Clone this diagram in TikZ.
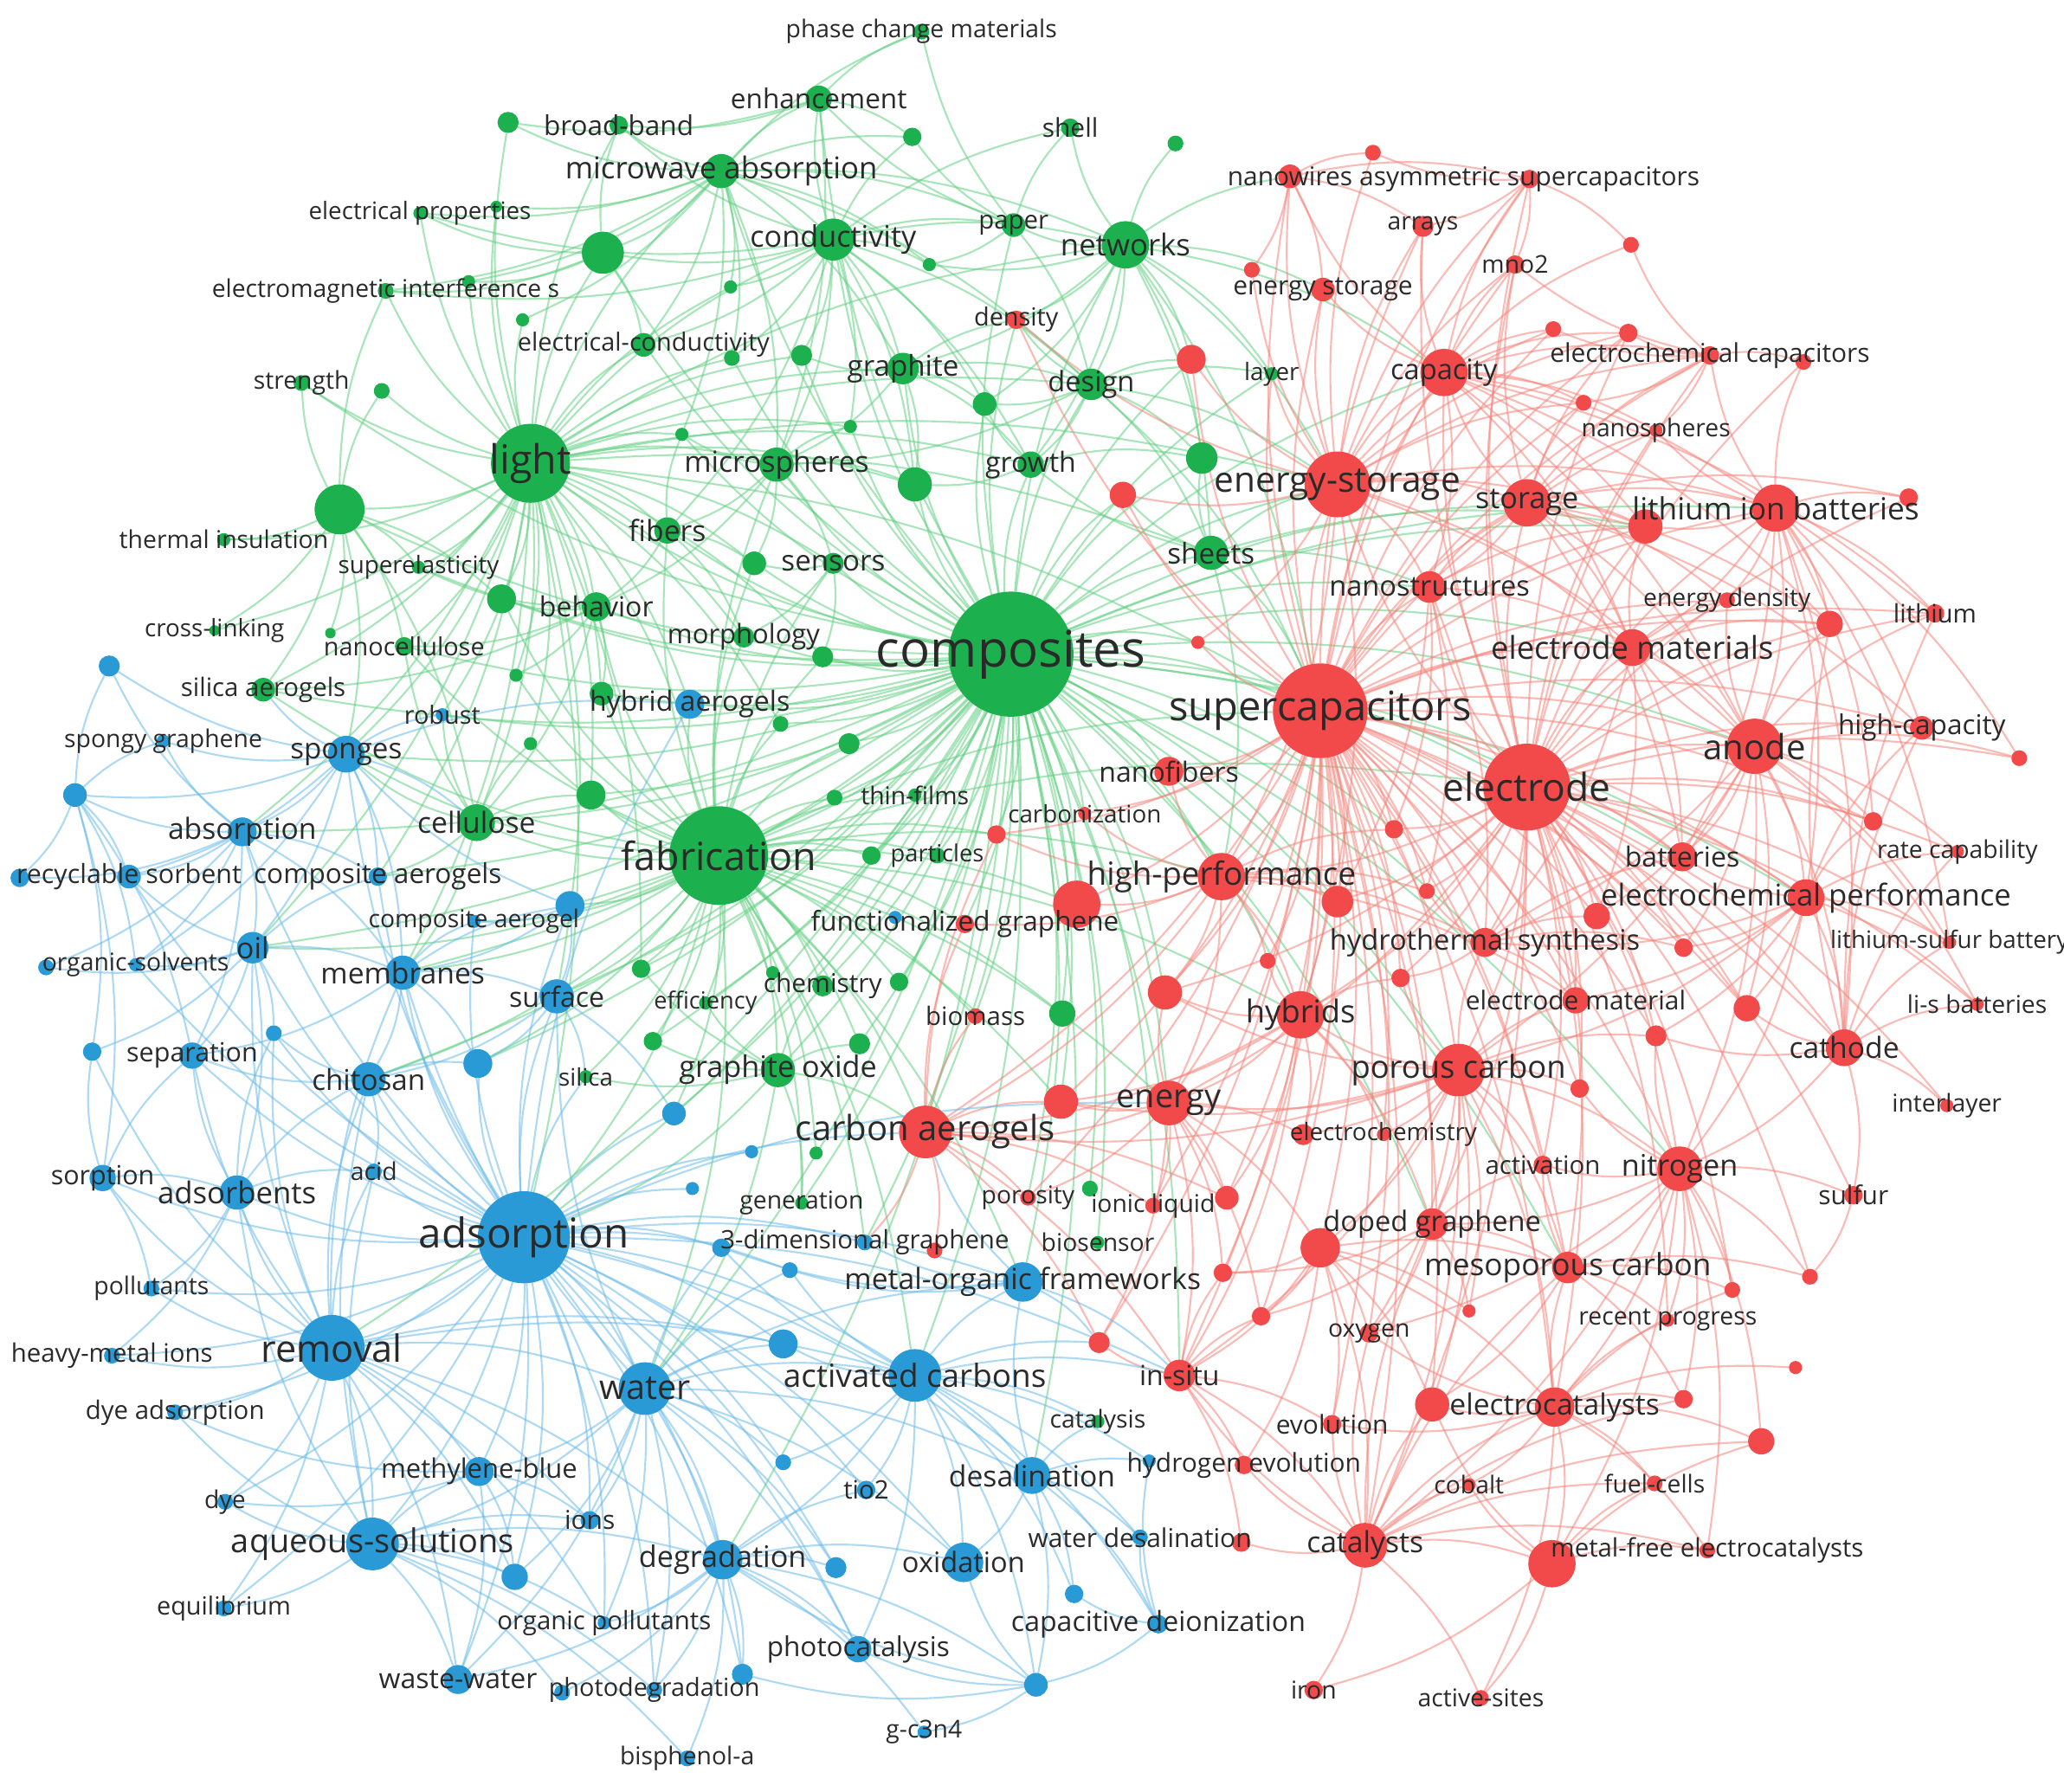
\documentclass[tikz,border=0pt]{standalone}
\usepackage{fontspec}
\setmainfont{Open Sans}
\definecolor{gnode}{HTML}{1DB04F}
\definecolor{rnode}{HTML}{F24A4A}
\definecolor{bnode}{HTML}{2A9AD6}
\definecolor{gline}{HTML}{62CF82}
\definecolor{rline}{HTML}{F5837A}
\definecolor{bline}{HTML}{6BBAEA}
\definecolor{txt}{HTML}{2A2A2A}
\pgfdeclarelayer{edges}
\pgfdeclarelayer{labels}
\pgfsetlayers{edges,main,labels}

\begin{document}
\begin{tikzpicture}[x=0.1mm, y=-0.1mm,
    kw/.style={circle, inner sep=0pt, outer sep=0pt, fill=#1},
    lbl/.style={text=txt, inner sep=0pt, font=\fontsize{#1}{#1}\selectfont},
    ge/.style={draw=gline, line width=0.4pt, opacity=0.55},
    re/.style={draw=rline, line width=0.4pt, opacity=0.55},
    be/.style={draw=bline, line width=0.4pt, opacity=0.55},
  ]
  \useasboundingbox (0,0) rectangle (1568,1361);

  % green cluster
  \foreach \n/\x/\y/\d/\f/\t in {comp/768/497/95/10.9/composites, light/403/352/60/8.7/light,
      fab/546/650/75/8.4/fabrication, mwabs/548/130/26/6.5/microwave absorption,
      cond/633/182/32/6.4/conductivity, netw/855/186/36/6.5/networks, paper/770/171/18/5.5/paper,
      shell/813/97/14/5.6/shell, enh/622/75/20/5.9/enhancement, bband/470/95/14/5.9/broad-band,
      pcm/700/24/12/5.3/phase change materials, elprop/319/162/10/5.2/electrical properties,
      emi/293/221/12/5.3/electromagnetic interference s, elcond/489/262/18/5.4/electrical-conductivity,
      strength/229/291/12/5.3/strength, thins/170/410/10/5.3/thermal insulation,
      supel/318/431/10/5.2/superelasticity, behav/453/461/22/6.0/behavior,
      xlink/163/479/8/5.2/cross-linking, ncell/307/491/14/5.4/nanocellulose,
      silaer/200/524/18/5.5/silica aerogels, cell/362/625/28/6.3/cellulose,
      morph/565/484/16/5.8/morphology, fibers/507/403/20/6.3/fibers, sensors/633/428/16/6.2/sensors,
      msph/590/353/26/6.3/microspheres, graphite/686/280/24/6.2/graphite, growth/783/353/20/6.0/growth,
      design/829/292/24/6.1/design, sheets/920/420/26/6.2/sheets, layer/966/284/10/5.2/layer,
      thinf/695/604/10/5.3/thin-films, partic/712/650/12/5.1/particles, chem/625/749/16/5.6/chemistry,
      effic/536/762/10/5.1/efficiency, graox/591/813/26/6.4/graphite oxide, silica/445/818/10/5.2/silica,
      gener/609/914/10/5.3/generation, biosens/834/944/10/5.3/biosensor, catal/834/1080/10/5.3/catalysis}{
    \node[kw=gnode, minimum size=\d*0.1mm] (\n) at (\x,\y) {};
    \begin{pgfonlayer}{labels}
      \node[lbl=\f] (\n-t) at (\n) {\t};
    \end{pgfonlayer}
  }
  \foreach \n/\x/\y/\d in {g1/386/93/16, g2/693/104/14, g3/893/109/12, g4/377/157/9, g5/458/192/32,
      g6/356/214/10, g7/397/243/10, g8/290/297/12, g9/258/387/38, g10/381/455/22, g11/251/481/8,
      g12/392/513/10, g13/457/527/18, g14/403/565/10, g15/449/604/22, g16/518/330/10, g17/555/218/10,
      g18/556/272/12, g19/609/270/16, g20/646/324/10, g21/706/201/10, g22/748/307/18, g23/695/368/26,
      g24/913/348/24, g25/573/428/18, g26/625/499/16, g27/593/550/12, g28/645/565/16, g29/634/606/12,
      g30/662/650/14, g31/683/746/14, g32/587/739/10, g33/487/736/14, g34/807/770/20, g35/653/793/16,
      g36/496/791/14, g37/620/876/10, g38/828/903/12}
    \node[kw=gnode, minimum size=\d*0.1mm] (\n) at (\x,\y) {};

  % blue cluster
  \foreach \n/\x/\y/\d/\f/\t in {ads/398/940/70/8.9/adsorption, remov/252/1024/50/8.1/removal,
      water/490/1055/40/7.4/water, aqsol/283/1173/40/7.1/aqueous-solutions,
      actc/695/1045/40/6.9/activated carbons, degr/549/1185/30/6.4/degradation,
      membr/306/739/26/6.3/membranes, absorp/184/632/22/6.3/absorption, spong/263/573/28/6.2/sponges,
      spgr/124/563/10/5.3/spongy graphene, recsorb/98/666/18/5.7/recyclable sorbent,
      compaers/287/666/14/5.9/composite aerogels, compaer/360/700/10/5.3/composite aerogel,
      oil/192/720/24/6.3/oil, orgsolv/103/733/10/5.3/organic-solvents, surface/423/757/26/6.0/surface,
      separ/146/802/20/5.7/separation, chitos/280/820/26/6.2/chitosan, robust/336/543/10/5.4/robust,
      hybaer/524/535/22/6.0/hybrid aerogels, sorpt/78/895/20/5.7/sorption, adsb/180/906/26/6.5/adsorbents,
      acid/284/890/12/5.3/acid, pollut/115/979/12/5.3/pollutants, heavy/85/1030/12/5.5/heavy-metal ions,
      dyeads/133/1073/12/5.5/dye adsorption, dye/171/1141/12/5.3/dye, equil/170/1222/12/5.4/equilibrium,
      mblue/364/1118/22/5.8/methylene-blue, ions/448/1155/14/5.6/ions,
      orgpol/459/1233/10/5.5/organic pollutants, wastew/348/1276/22/6.0/waste-water,
      photod/497/1284/12/5.4/photodegradation, bisph/522/1336/12/5.3/bisphenol-a,
      photoc/652/1253/20/5.9/photocatalysis, gc3n4/702/1316/10/5.3/g-c3n4, oxid/732/1187/30/6.1/oxidation,
      tio2/658/1132/14/5.5/tio2, desal/784/1121/28/6.3/desalination,
      mof/777/974/30/6.3/metal-organic frameworks, waterdes/866/1168/12/5.6/water desalination,
      capdei/880/1234/14/6.0/capacitive deionization, tdg/657/944/12/5.5/3-dimensional graphene}{
    \node[kw=bnode, minimum size=\d*0.1mm] (\n) at (\x,\y) {};
    \begin{pgfonlayer}{labels}
      \node[lbl=\f] (\n-t) at (\n) {\t};
    \end{pgfonlayer}
  }
  \foreach \n/\x/\y/\d in {b1/83/506/16, b2/57/604/18, b3/15/667/14, b4/35/735/12, b5/433/688/22,
      b6/208/785/12, b7/70/799/14, b8/363/808/22, b9/512/846/18, b10/571/875/10, b11/526/903/10,
      b12/548/948/14, b13/600/965/12, b14/595/1021/22, b15/391/1198/20, b16/427/1286/12, b17/564/1272/16,
      b18/635/1191/16, b19/595/1111/12, b20/816/1211/14, b21/787/1280/18, b22/873/1110/10, b23/680/697/10}
    \node[kw=bnode, minimum size=\d*0.1mm] (\n) at (\x,\y) {};

  % red cluster
  \foreach \n/\x/\y/\d/\f/\t in {super/1003/540/72/8.8/supercapacitors, electrode/1160/598/66/8.3/electrode,
      estor/1016/368/50/7.6/energy-storage, storage/1160/382/36/6.4/storage, capac/1097/283/36/6.1/capacity,
      lib/1349/386/36/6.6/lithium ion batteries, anode/1333/567/42/7.5/anode,
      nanostr/1086/446/24/6.1/nanostructures, elmats/1240/492/28/6.8/electrode materials,
      edens/1312/456/12/5.3/energy density, lithium/1470/466/14/5.5/lithium,
      hcap/1460/553/18/5.9/high-capacity, ratecap/1487/647/10/5.3/rate capability,
      batt/1278/651/22/6.0/batteries, eperf/1372/682/28/6.5/electrochemical performance,
      lisb/1481/716/10/5.2/lithium-sulfur battery, lisbat/1502/763/10/5.3/li-s batteries,
      cathode/1401/796/28/6.3/cathode, interl/1479/840/10/5.3/interlayer, sulfur/1408/908/14/5.6/sulfur,
      nitro/1276/888/34/6.4/nitrogen, activ/1172/885/14/5.5/activation, porc/1108/813/40/6.8/porous carbon,
      echem/1051/862/10/5.2/electrochemistry, hydro/1128/716/22/6.1/hydrothermal synthesis,
      elmat/1197/760/20/5.6/electrode material, hybr/988/771/36/6.8/hybrids,
      hperf/928/666/36/6.9/high-performance, nfib/888/586/22/6.0/nanofibers,
      carbz/824/618/10/5.2/carbonization, energy/888/838/34/7.1/energy, caer/703/860/40/7.5/carbon aerogels,
      poros/781/910/12/5.3/porosity, ionic/876/916/12/5.3/ionic liquid, dopgr/1088/930/24/6.1/doped graphene,
      mesoc/1191/963/24/6.6/mesoporous carbon, oxygen/1040/1013/14/5.3/oxygen,
      recprog/1267/1003/10/5.3/recent progress, ecat/1181/1069/30/6.3/electrocatalysts,
      evol/1012/1082/14/5.6/evolution, insitu/896/1045/24/6.0/in-situ, catsts/1037/1174/34/6.3/catalysts,
      cobalt/1116/1128/10/5.3/cobalt, fuelc/1257/1127/12/5.3/fuel-cells,
      mfec/1297/1178/12/5.5/metal-free electrocatalysts, iron/998/1284/14/5.3/iron,
      actsites/1125/1290/12/5.3/active-sites, nwires/980/134/18/5.6/nanowires,
      asym/1162/136/14/5.6/asymmetric supercapacitors, arrays/1081/172/16/5.3/arrays,
      mno2/1151/201/14/5.3/mno2, estor2/1005/220/18/5.6/energy storage,
      eccap/1299/270/14/5.6/electrochemical capacitors, nsph/1258/327/10/5.3/nanospheres,
      density/772/243/14/5.4/density, funcgr/733/702/14/5.9/functionalized graphene,
      hydev/945/1113/14/5.6/hydrogen evolution, biomass/741/772/12/5.5/biomass}{
    \node[kw=rnode, minimum size=\d*0.1mm] (\n) at (\x,\y) {};
    \begin{pgfonlayer}{labels}
      \node[lbl=\f] (\n-t) at (\n) {\t};
    \end{pgfonlayer}
  }
  \foreach \n/\x/\y/\d in {r1/1043/116/12, r2/951/205/12, r3/905/273/22, r4/853/376/20, r5/1180/250/12,
      r6/1237/253/14, r7/1239/186/12, r8/1370/275/12, r9/1203/306/12, r10/1450/378/14, r11/1250/400/26,
      r12/1390/474/20, r13/1534/576/12, r14/1423/624/14, r15/1059/630/14, r16/1084/677/12, r17/1016/685/24,
      r18/1213/696/20, r19/1279/720/14, r20/1327/766/20, r21/1258/787/16, r22/1200/827/14, r23/1064/743/14,
      r24/963/730/12, r25/818/687/36, r26/885/754/26, r27/806/837/26, r28/757/634/14, r29/910/488/10,
      r30/990/862/16, r31/932/910/18, r32/1003/948/30, r33/835/1020/16, r34/929/967/14, r35/958/1000/14,
      r36/1088/1067/26, r37/1179/1188/36, r38/1338/1095/20, r39/1279/1063/14, r40/1364/1039/10,
      r41/1316/980/12, r42/1375/970/12, r43/943/1172/14, r44/710/950/12, r45/1116/996/10}
    \node[kw=rnode, minimum size=\d*0.1mm] (\n) at (\x,\y) {};

  % links
  \begin{pgfonlayer}{edges}
    \foreach \s/\ts in {comp/{light,fab,mwabs,cond,netw,paper,enh,elcond,behav,ncell,silaer,cell,morph,fibers,sensors,msph,graphite,growth,design,sheets,thinf,partic,chem,effic,graox,gener,biosens,g5,g9,g10,g13,g15,g16,g18,g19,g20,g22,g23,g24,g25,g26,g27,g28,g29,g30,g31,g33,g34,g35,g36,g38,strength,supel,layer,density,super,electrode,estor,storage,capac,lib,anode,nanostr,elmats,hperf,hybr,nfib,carbz,energy,caer,porc,dopgr,funcgr,biomass,r3,r4,r11,r15,r17,r25,r26,r27,r28,r29,batt,eperf,hydro,nitro,insitu,mesoc,ads,water,actc,membr,spong,absorp,surface,hybaer,oil,chitos,mof,b5,b8,b9,degr,remov,desal,robust,compaers,tdg,poros,ionic},
        light/{g1,g4,g5,g6,g7,g8,g9,g10,g11,g12,g13,g14,g15,g16,elprop,emi,elcond,strength,thins,supel,behav,xlink,ncell,silaer,cell,fibers,msph,mwabs,bband,cond,fab,morph,sensors,g25,graphite,spong,absorp,membr,ads,hybaer,robust,compaers,super,estor,netw,design,growth,g23,g17,g18,g19,g20,g26,g27,g33,surface,oil,sheets},
        fab/{cell,g15,g14,g13,g27,g28,g29,g30,thinf,partic,chem,effic,g33,graox,g35,g36,silica,surface,b5,compaer,membr,ads,water,actc,caer,funcgr,g31,g32,super,hperf,electrode,behav,morph,msph,fibers,g10,hybaer,sensors,g25,g26,spong,oil,chitos,energy,r25,r28,biomass,g34,mof,tdg,gener,b9,b8,g12,ncell,silaer,r27,hybr,g37},
        mwabs/{g1,bband,enh,g2,cond,g5,elprop,g4,emi,g6,g7,elcond,g17,g18,graphite,msph,netw,paper,g21,design,g16,pcm},
        cond/{enh,g2,paper,g17,g18,g19,g20,g21,graphite,msph,elcond,netw,g5,design,growth,g22,g23,emi,elprop,bband,shell,fibers},
        netw/{paper,shell,g3,design,growth,g24,sheets,estor,super,r3,nwires,layer,g22,density,graphite,g21,estor2,capac},
        paper/{shell,pcm,enh,g21,design,g2},
        enh/{pcm,g2,bband,g1,msph},
        g9/{thins,strength,supel,silaer,g8,g10,xlink,cell,ncell,spong,emi,g11},
        design/{growth,g22,g24,sheets,layer,estor,r3,super,density,msph},
        sheets/{estor,super,g24,r4,r11,growth,nanostr,hperf},
        graphite/{g22,g23,msph,growth,design,density,g19},
        g5/{bband,elcond,emi,g6,elprop},
        msph/{fibers,sensors,g25,g23,g16,g20,behav},
        behav/{g10,ncell,supel,cell,g13,silaer,g12},
        cell/{spong,compaers,ncell,g15,g14,robust,membr},
        fibers/{g16,g25,behav,morph},
        sensors/{g25,morph,g26},
        growth/{g22,g23,g24},
        graox/{chem,effic,silica,g35,g36,g33,caer,ads,water,gener}}{
      \foreach \t in \ts {\draw[ge] (\s) to[bend left=12] (\t);}
    }
    \foreach \s/\ts in {super/{estor,storage,capac,electrode,anode,lib,nanostr,elmats,edens,hcap,batt,eperf,hydro,elmat,hybr,hperf,nfib,carbz,energy,caer,porc,echem,dopgr,mesoc,nitro,activ,ecat,insitu,catsts,r3,r4,r11,r12,r14,r15,r16,r17,r18,r19,r20,r21,r22,r23,r24,r25,r26,r27,r28,r29,r30,r31,r32,r33,r34,r35,nwires,asym,arrays,mno2,estor2,eccap,nsph,r5,r6,r9,layer,density,cathode,lithium,oxygen,evol,ionic,poros,r36},
        electrode/{estor,storage,capac,anode,lib,nanostr,elmats,edens,lithium,hcap,ratecap,batt,eperf,lisb,cathode,hydro,elmat,porc,nitro,activ,hybr,hperf,energy,dopgr,mesoc,r11,r12,r13,r14,r18,r19,r20,r21,r22,r23,r15,r16,r10,r8,r6,eccap,nsph,lisbat,interl,sulfur,ecat,catsts,recprog,r41,r42,mno2,arrays,asym,r17,r26},
        estor/{storage,capac,nwires,asym,arrays,mno2,estor2,r2,r3,r4,nanostr,layer,r5,r9,r6,eccap,hperf,hybr,anode,lib,r11,elmats,density,r1,r29},
        storage/{capac,lib,r11,nanostr,elmats,edens,anode,eccap,nsph,r6,r9,mno2,r10,r12,batt,hcap},
        capac/{arrays,mno2,asym,nsph,r5,r6,r7,r9,eccap,nanostr,elmats,lib,anode,r11,lithium,r12,estor2,nwires},
        lib/{r10,r11,r12,edens,lithium,hcap,anode,elmats,eccap,r8,nsph,batt,eperf,cathode,lisb,r14,r13},
        anode/{r12,lithium,hcap,r13,r14,ratecap,batt,eperf,lisb,lisbat,cathode,edens,elmats,r19,r20,r18,hydro,porc,nitro},
        eperf/{cathode,lisb,lisbat,ratecap,r14,r20,r21,batt,hcap,hydro,elmat,porc,nitro,r19},
        cathode/{interl,sulfur,lisbat,lisb,ratecap,hcap,nitro,r20,r21,r12,lithium},
        porc/{nitro,activ,echem,dopgr,mesoc,hybr,energy,elmat,hydro,r21,r22,r30,r32,ecat,catsts,r23,r26,r27,caer,insitu,oxygen,r45,r36},
        nitro/{activ,dopgr,mesoc,recprog,ecat,r41,r42,sulfur,r22,r21,catsts,oxygen,r39,r38,mfec,r37},
        hperf/{r25,hybr,energy,nfib,funcgr,carbz,r24,r17,r15,r16,r26,caer,r28,elmat,hydro},
        hybr/{energy,r26,r27,r30,r23,r24,caer,dopgr,insitu,r31,echem},
        energy/{caer,r27,r26,r30,r31,r32,insitu,poros,ionic,r33,r34,r35},
        caer/{r27,poros,ionic,r44,biomass,funcgr,r28,r33,insitu,tdg,r31},
        r32/{catsts,ecat,oxygen,evol,r34,r35,insitu,mesoc,r36,hydev,r45},
        catsts/{ecat,r36,r37,evol,hydev,cobalt,fuelc,mfec,iron,actsites,oxygen,r43,insitu,mesoc,r39,r38,dopgr},
        ecat/{r36,r37,cobalt,fuelc,mfec,r38,r39,r40,mesoc,recprog,oxygen,r41,actsites,evol},
        r37/{mfec,actsites,fuelc,cobalt,r38,r36,iron},
        mesoc/{r41,r42,recprog,r39,r36,activ},
        nanostr/{elmats,storage,r11,hydro,r15,r16,r17},
        elmats/{r11,r12,edens,batt,hydro,r18,anode},
        hydro/{r18,r19,elmat,r16,r23,batt},
        dopgr/{mesoc,activ,r45,oxygen,r35,r34},
        insitu/{r33,r34,r35,evol,hydev,r43,catsts},
        sulfur/{r42},
        nwires/{asym,r1,arrays,estor2,r2},
        asym/{r7,mno2,arrays,r1},
        eccap/{r5,r6,r7,r8,nsph,r9,mno2}}{
      \foreach \t in \ts {\draw[re] (\s) to[bend left=12] (\t);}
    }
    \foreach \s/\ts in {ads/{remov,water,aqsol,actc,degr,membr,absorp,spong,oil,surface,separ,chitos,sorpt,adsb,acid,pollut,heavy,dyeads,mblue,ions,orgpol,wastew,photod,photoc,oxid,tio2,desal,mof,b5,b6,b8,b9,b10,b11,b12,b13,b14,b15,b17,b18,b19,compaer,compaers,recsorb,orgsolv,tdg,dye,equil,hybaer,silica,caer,energy,insitu},
        remov/{water,aqsol,adsb,sorpt,pollut,heavy,dyeads,dye,equil,mblue,ions,wastew,chitos,separ,oil,b15,actc,degr,b6,b7,membr,acid,orgpol,b14},
        water/{aqsol,actc,degr,mblue,ions,b14,b15,b18,b19,oxid,photoc,wastew,orgpol,desal,membr,surface,mof,b12,b13,photod,b17},
        aqsol/{wastew,mblue,ions,b15,dye,equil,adsb,degr,orgpol,photod,b16,bisph,dyeads,acid,chitos},
        actc/{mof,desal,oxid,tio2,degr,b13,b14,b19,b12,capdei,waterdes,b20,b21,b22,catal,insitu,photoc,r33},
        degr/{photoc,photod,bisph,gc3n4,b17,b18,oxid,tio2,orgpol,b16,wastew,b21},
        desal/{capdei,waterdes,b20,b21,b22,oxid,mof,catal},
        spong/{absorp,oil,spgr,b1,b2,recsorb,membr,compaers,robust,silaer,hybaer,orgsolv,cell},
        absorp/{oil,recsorb,b2,b1,spgr,orgsolv,membr,compaers,separ,b3,b4},
        oil/{recsorb,orgsolv,b4,separ,membr,b6,b7,compaers,adsb},
        membr/{surface,chitos,b8,separ,compaer,b5},
        mblue/{ions,b15,wastew,dye,dyeads},
        b5/{compaer,surface,membr,spong},
        surface/{b8,chitos,b9,silica},
        chitos/{b8,separ,acid,b6},
        b2/{recsorb,b3,orgsolv,b7,spgr,b1,separ,sorpt},
        sorpt/{adsb,pollut,separ,b7},
        adsb/{pollut,heavy,separ,acid,chitos,b6},
        capdei/{b20,b21,waterdes,b22},
        b21/{photoc,degr,gc3n4,b17,oxid},
        mof/{tdg,b12,b13,r33,insitu,caer}}{
      \foreach \t in \ts {\draw[be] (\s) to[bend left=12] (\t);}
    }
  \end{pgfonlayer}
\end{tikzpicture}
\end{document}
